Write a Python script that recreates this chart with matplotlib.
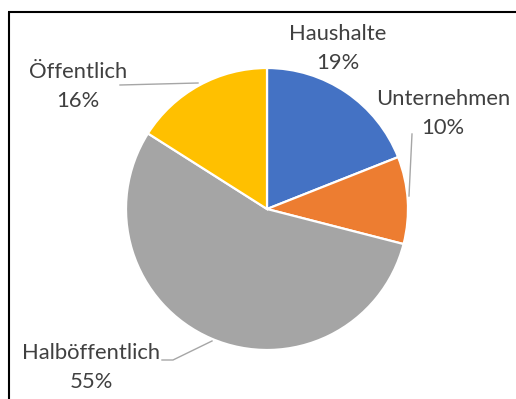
import matplotlib
matplotlib.use("Agg")
import matplotlib.pyplot as plt
from matplotlib.lines import Line2D

categories = ["Haushalte", "Unternehmen", "Halböffentlich", "Öffentlich"]
shares = [19, 10, 55, 16]
colors = ["#4472C4", "#ED7D31", "#A5A5A5", "#FFC000"]

W, H = 516, 399
fig = plt.figure(figsize=(W / 100, H / 100), dpi=100)
ax = fig.add_axes([0, 0, 1, 1])

cx, cy, r = 267, 190, 141
ax.pie(shares, colors=colors, startangle=90, counterclock=False,
       center=(cx, cy), radius=r, frame=True,
       wedgeprops=dict(edgecolor="white", linewidth=1.6))
ax.set_xlim(0, W)
ax.set_ylim(0, H)
ax.set_aspect("equal")
ax.axis("off")

# label anchors (text centre of the name line) and leader lines
label_pos = {
    "Haushalte": (338, 365),
    "Unternehmen": (443, 300),
    "Öffentlich": (78, 327),
    "Halböffentlich": (91, 46),
}
leaders = {
    "Unternehmen": [(412, 265), (409, 203)],
    "Öffentlich": [(120, 314), (198, 316)],
    "Halböffentlich": [(162, 39), (173, 39), (212, 58)],
}
font = ["Lato", "DejaVu Sans"]
for name, val in zip(categories, shares):
    x, y = label_pos[name]
    ax.text(x, y, name, ha="center", va="center", fontsize=15.8,
            color="#404040", family=font)
    ax.text(x, y - 29, f"{val}%", ha="center", va="center", fontsize=15.8,
            color="#404040", family=font)
    if name in leaders:
        xs, ys = zip(*leaders[name])
        ax.add_line(Line2D(xs, ys, color="#A6A6A6", linewidth=1.0))

# chart frame (top and left edges)
ax.add_line(Line2D([8, W], [H - 12, H - 12], color="black", linewidth=1.5,
                   solid_capstyle="butt"))
ax.add_line(Line2D([9, 9], [0, H - 12], color="black", linewidth=1.5,
                   solid_capstyle="butt"))

fig.savefig("out.png", dpi=100)
